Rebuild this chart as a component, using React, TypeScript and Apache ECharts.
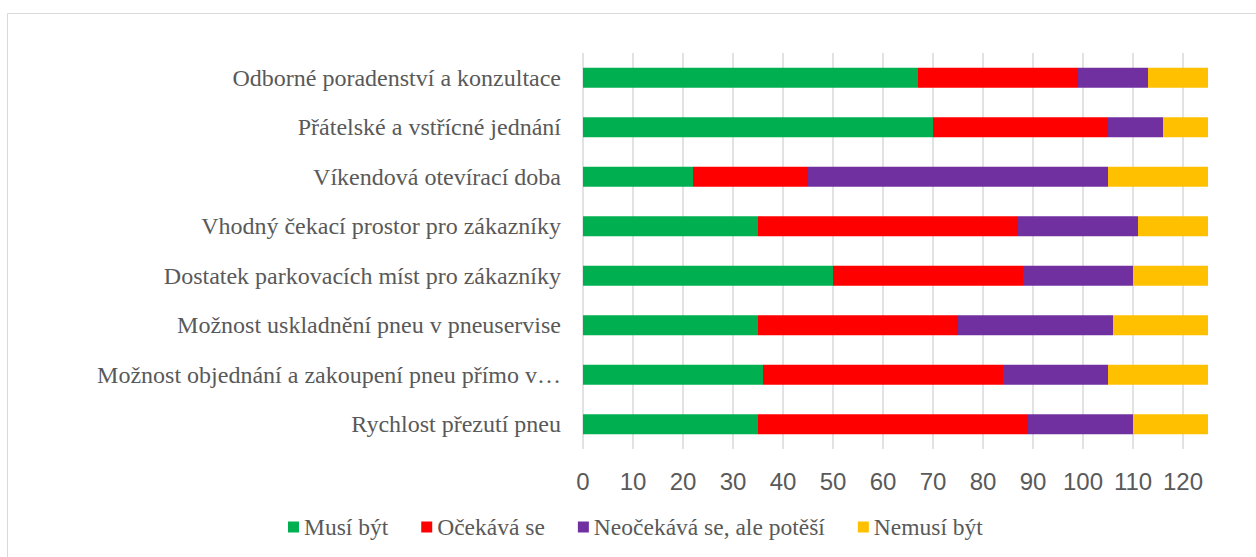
import React, { useEffect, useRef } from "react";
import * as echarts from "echarts";

const categories = [
  "Odborné poradenství a konzultace",
  "Přátelské a vstřícné jednání",
  "Víkendová otevírací doba",
  "Vhodný čekací prostor pro zákazníky",
  "Dostatek parkovacích míst pro zákazníky",
  "Možnost uskladnění pneu v pneuservise",
  "Možnost objednání a zakoupení pneu přímo v…",
  "Rychlost přezutí pneu",
];

const musiByt = [67, 70, 22, 35, 50, 35, 36, 35];
const ocekavaSe = [32, 35, 23, 52, 38, 40, 48, 54];
const neocekavaSe = [14, 11, 60, 24, 22, 31, 21, 21];
const nemusiByt = [12, 9, 20, 14, 15, 19, 20, 15];

const seriesNames = ["Musí být", "Očekává se", "Neočekává se, ale potěší", "Nemusí být"];
const seriesColors = ["#00B050", "#FF0000", "#7030A0", "#FFC000"];

export default function App() {
  const ref = useRef<HTMLDivElement>(null);
  useEffect(() => {
    if (!ref.current) return;
    const chart = echarts.init(ref.current, undefined, { renderer: "svg" });
    const data = [musiByt, ocekavaSe, neocekavaSe, nemusiByt];
    chart.setOption({
      animation: false,
      backgroundColor: "#ffffff",
      graphic: [
        {
          type: "rect",
          shape: { x: 7.5, y: 13.5, width: 1400, height: 700 },
          style: { fill: "none", stroke: "#d9d9d9", lineWidth: 1 },
          silent: true,
        },
      ],
      grid: { left: 583, right: 48, top: 53, bottom: 108, containLabel: false },
      legend: {
        left: 283,
        top: 510,
        itemWidth: 11,
        itemHeight: 11,
        itemGap: 33,
        icon: "rect",
        textStyle: { fontFamily: "Liberation Serif", fontSize: 23.5, color: "#595959" },
        data: seriesNames,
      },
      xAxis: {
        type: "value",
        min: 0,
        max: 125,
        interval: 10,
        axisLine: { show: false },
        axisTick: { show: false },
        axisLabel: {
          showMaxLabel: false,
          margin: 20,
          fontFamily: "Liberation Sans Narrow, Liberation Sans",
          fontSize: 24,
          color: "#595959",
        },
        splitLine: { show: true, showMaxLine: false, lineStyle: { color: "#d9d9d9", width: 1.5 } },
      },
      yAxis: {
        type: "category",
        inverse: true,
        data: categories,
        axisLine: { show: false },
        axisTick: { show: false },
        axisLabel: {
          margin: 22,
          fontFamily: "Liberation Serif",
          fontSize: 24,
          color: "#595959",
        },
      },
      series: seriesNames.map((name, i) => ({
        name,
        type: "bar",
        stack: "total",
        barWidth: 20,
        itemStyle: { color: seriesColors[i] },
        data: data[i],
      })),
    });
    return () => chart.dispose();
  }, []);
  return (
    <div
      ref={ref}
      style={{ position: "fixed", left: 0, top: 0, width: 1256, height: 557 }}
    />
  );
}
